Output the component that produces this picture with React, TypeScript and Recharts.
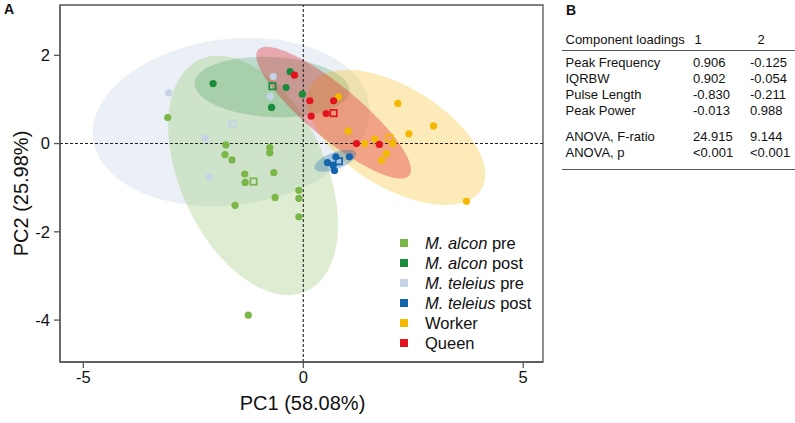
import React from 'react';
import { ScatterChart, Scatter, XAxis, YAxis, ReferenceLine, ReferenceArea, Legend } from 'recharts';

const FONT = '"Liberation Sans", Arial, Helvetica, sans-serif';

// ---- data (PC1, PC2) ----
const alconPre: [number, number][] = [
  [-3.08, 0.59], [-1.76, -0.03], [-1.78, -0.25], [-1.62, -0.37], [-0.76, -0.09], [-0.76, -0.21],
  [-1.33, -0.69], [-1.32, -0.88], [-0.67, -0.66], [-0.64, -1.22], [-1.55, -1.40], [-0.10, -1.06],
  [-0.10, -1.24], [-0.10, -1.66], [-1.25, -3.89],
];
const alconPost: [number, number][] = [[-2.05, 1.36], [-0.30, 1.63], [-0.39, 1.27], [-0.72, 0.82], [-0.02, 1.12]];
const teleiusPre: [number, number][] = [[-3.06, 1.15], [-0.68, 1.52], [-0.75, 1.07], [-2.23, 0.13], [-2.14, -0.76]];
const teleiusPost: [number, number][] = [[0.74, -0.30], [1.05, -0.30], [0.55, -0.43], [0.68, -0.49], [0.71, -0.61]];
const worker: [number, number][] = [
  [0.80, 1.06], [2.15, 0.91], [2.96, 0.40], [2.40, 0.22], [1.02, 0.28], [1.63, 0.10], [1.40, 0.00],
  [2.04, 0.00], [1.89, -0.23], [1.78, -0.38], [3.71, -1.31],
];
const queen: [number, number][] = [[-0.20, 1.55], [0.15, 0.97], [0.69, 0.97], [0.18, 0.62], [0.52, 0.68], [1.21, 0.00], [1.73, -0.02]];

// group means (hollow squares)
const alconPreMean: [number, number] = [-1.13, -0.86];
const alconPostMean: [number, number] = [-0.70, 1.30];
const teleiusPreMean: [number, number] = [-1.61, 0.45];
const teleiusPostMean: [number, number] = [0.81, -0.40];
const workerMean: [number, number] = [1.96, 0.12];
const queenMean: [number, number] = [0.69, 0.69];

// ellipses: [centerX, centerY, semiMajor, semiMinor, angleDeg]
const alconPreEllipse = [-1.14, -0.72, 2.89, 1.65, -65];
const alconPostEllipse = [-0.71, 1.28, 1.76, 0.68, -3];
const teleiusPreEllipse = [-1.64, 0.49, 3.16, 1.88, 7];
const teleiusPostEllipse = [0.73, -0.39, 0.5, 0.19, 20];
const workerEllipse = [2.11, 0.14, 2.27, 1.14, -31.4];
const queenEllipse = [0.69, 0.70, 2.23, 0.59, -39.6];

const xTicks = [-5, 0, 5];
const yTicks = [-4, -2, 0, 2];
const xDomain: [number, number] = [-5.53, 5.45];
const yDomain: [number, number] = [-4.95, 3.14];

// table
const tableHeader = ['Component loadings', '1', '2'];
const loadingLabels = ['Peak Frequency', 'IQRBW', 'Pulse Length', 'Peak Power'];
const loadings1 = ['0.906', '0.902', '-0.830', '-0.013'];
const loadings2 = ['-0.125', '-0.054', '-0.211', '0.988'];
const anovaLabels = ['ANOVA, F-ratio', 'ANOVA, p'];
const anova1 = ['24.915', '<0.001'];
const anova2 = ['9.144', '<0.001'];

type Group = {
  key: string; italic: string; rest: string; color: string; fillOpacity: number;
  points: [number, number][]; mean: [number, number]; ellipse: number[];
};

const GROUPS: Group[] = [
  { key: 'alconPre', italic: 'M. alcon', rest: ' pre', color: '#7ab648', fillOpacity: 0.25, points: alconPre, mean: alconPreMean, ellipse: alconPreEllipse },
  { key: 'alconPost', italic: 'M. alcon', rest: ' post', color: '#1a8c3c', fillOpacity: 0.22, points: alconPost, mean: alconPostMean, ellipse: alconPostEllipse },
  { key: 'teleiusPre', italic: 'M. teleius', rest: ' pre', color: '#c6d3e6', fillOpacity: 0.35, points: teleiusPre, mean: teleiusPreMean, ellipse: teleiusPreEllipse },
  { key: 'teleiusPost', italic: 'M. teleius', rest: ' post', color: '#1565ad', fillOpacity: 0.3, points: teleiusPost, mean: teleiusPostMean, ellipse: teleiusPostEllipse },
  { key: 'worker', italic: '', rest: 'Worker', color: '#f5b800', fillOpacity: 0.28, points: worker, mean: workerMean, ellipse: workerEllipse },
  { key: 'queen', italic: '', rest: 'Queen', color: '#e2131d', fillOpacity: 0.33, points: queen, mean: queenMean, ellipse: queenEllipse },
];
const ELLIPSE_ORDER = ['teleiusPre', 'alconPre', 'alconPost', 'worker', 'queen', 'teleiusPost'];

function ellipseShape(e: number[], color: string, opacity: number) {
  return (p: any) => {
    const { x, y, width, height } = p;
    if (![x, y, width, height].every((v) => Number.isFinite(v))) return <g />;
    const kx = Math.abs(width) / 2;
    const ky = Math.abs(height) / 2;
    const X = x + width / 2;
    const Y = y + height / 2;
    const a = e[2], b = e[3];
    const th = (e[4] * Math.PI) / 180;
    let d = '';
    const N = 120;
    for (let i = 0; i <= N; i++) {
      const t = (i / N) * 2 * Math.PI;
      const dx = a * Math.cos(t) * Math.cos(th) - b * Math.sin(t) * Math.sin(th);
      const dy = a * Math.cos(t) * Math.sin(th) + b * Math.sin(t) * Math.cos(th);
      d += (i ? 'L' : 'M') + (X + kx * dx).toFixed(2) + ',' + (Y - ky * dy).toFixed(2);
    }
    return <path d={d + 'Z'} fill={color} fillOpacity={opacity} stroke="none" />;
  };
}

const toPts = (arr: [number, number][]) => arr.map(([x, y]) => ({ x, y }));

const LegendBox = () => (
  <div style={{ fontFamily: FONT, fontSize: 16.5, color: '#111' }}>
    {GROUPS.map((g) => (
      <div key={g.key} style={{ height: 20, display: 'flex', alignItems: 'center', whiteSpace: 'nowrap' }}>
        <span style={{ display: 'inline-block', width: 8, height: 8, background: g.color, marginRight: 17 }} />
        <span>
          {g.italic ? <i>{g.italic}</i> : null}
          {g.rest}
        </span>
      </div>
    ))}
  </div>
);

const XLabel = (props: any) => {
  const vb = props.viewBox || { x: 60, y: 362, width: 483, height: 61 };
  return (
    <text x={vb.x + vb.width / 2 + 1} y={vb.y + 48} textAnchor="middle" fontFamily={FONT} fontSize={20} fill="#111">
      PC1 (58.08%)
    </text>
  );
};
const YLabel = () => {
  const cx = 27.5;
  const cy = 193.5;
  return (
    <text x={cx} y={cy} transform={`rotate(-90, ${cx}, ${cy})`} textAnchor="middle" fontFamily={FONT} fontSize={20} fill="#111">
      PC2 (25.98%)
    </text>
  );
};

const Table = () => {
  const c0 = 25.5, c1 = 153, c2 = 210;
  const rowY = [67, 83, 99, 115];
  const anovaY = [141, 156.5];
  const txt = { fontFamily: FONT, fontSize: 13, fill: '#111' } as const;
  return (
    <svg width={255} height={200} style={{ position: 'absolute', left: 540, top: 0 }}>
      <text x={26} y={15} fontFamily={FONT} fontSize={14} fontWeight="bold" fill="#111">B</text>
      <text x={c0} y={43.5} {...txt}>{tableHeader[0]}</text>
      <text x={c1 + 1.5} y={43.5} {...txt}>{tableHeader[1]}</text>
      <text x={c2 + 7.5} y={43.5} {...txt}>{tableHeader[2]}</text>
      <line x1={22} x2={255} y1={50.5} y2={50.5} stroke="#555" strokeWidth={1} />
      {loadingLabels.map((l, i) => (
        <g key={l}>
          <text x={c0} y={rowY[i]} {...txt}>{l}</text>
          <text x={c1} y={rowY[i]} {...txt}>{loadings1[i]}</text>
          <text x={c2} y={rowY[i]} {...txt}>{loadings2[i]}</text>
        </g>
      ))}
      {anovaLabels.map((l, i) => (
        <g key={l}>
          <text x={c0} y={anovaY[i]} {...txt}>{l}</text>
          <text x={c1} y={anovaY[i]} {...txt}>{anova1[i]}</text>
          <text x={c2} y={anovaY[i]} {...txt}>{anova2[i]}</text>
        </g>
      ))}
      <line x1={22} x2={255} y1={169.5} y2={169.5} stroke="#555" strokeWidth={1} />
    </svg>
  );
};

export default function App() {
  const byKey: Record<string, Group> = {};
  GROUPS.forEach((g) => (byKey[g.key] = g));
  return (
    <div style={{ position: 'absolute', left: 0, top: 0, width: 795, height: 423, background: '#fff', fontFamily: FONT }}>
      <div style={{ position: 'absolute', left: 4, top: 1, fontFamily: FONT, fontSize: 14, fontWeight: 'bold', color: '#111' }}>A</div>
      <ScatterChart width={795} height={423} margin={{ top: 5, right: 252, bottom: 0, left: 0 }}>
        <XAxis
          type="number"
          dataKey="x"
          domain={xDomain}
          ticks={xTicks}
          allowDataOverflow
          height={61}
          tickSize={6}
          tickMargin={3}
          axisLine={{ stroke: '#555', strokeWidth: 1.3 }}
          tickLine={{ stroke: '#555', strokeWidth: 1.3 }}
          tick={{ fontSize: 16.5, fill: '#111', fontFamily: FONT }}
          label={<XLabel />}
        />
        <YAxis
          type="number"
          dataKey="y"
          domain={yDomain}
          ticks={yTicks}
          allowDataOverflow
          width={60}
          tickSize={6}
          tickMargin={4}
          axisLine={{ stroke: '#555', strokeWidth: 1.3 }}
          tickLine={{ stroke: '#555', strokeWidth: 1.3 }}
          tick={{ fontSize: 16.5, fill: '#111', fontFamily: FONT }}
          label={<YLabel />}
        />
        {ELLIPSE_ORDER.map((k) => {
          const g = byKey[k];
          const e = g.ellipse;
          return (
            <ReferenceArea
              key={'e-' + k}
              x1={e[0] - 1}
              x2={e[0] + 1}
              y1={e[1] - 1}
              y2={e[1] + 1}
              ifOverflow="visible"
              shape={ellipseShape(e, g.color, g.fillOpacity)}
            />
          );
        })}
        <ReferenceArea
          x1={xDomain[0]}
          x2={xDomain[1]}
          y1={yDomain[0]}
          y2={yDomain[1]}
          ifOverflow="visible"
          fill="none"
          fillOpacity={0}
          stroke="#555"
          strokeWidth={1.3}
        />
        <ReferenceLine x={0} stroke="#222" strokeWidth={1.1} strokeDasharray="3 2" />
        <ReferenceLine y={0} stroke="#222" strokeWidth={1.1} strokeDasharray="3 2" />
        {GROUPS.map((g) => (
          <Scatter
            key={'p-' + g.key}
            name={g.key}
            data={toPts(g.points)}
            isAnimationActive={false}
            legendType="none"
            shape={(p: any) => <circle cx={p.cx} cy={p.cy} r={3.6} fill={g.color} />}
          />
        ))}
        {GROUPS.map((g) => (
          <Scatter
            key={'m-' + g.key}
            name={g.key + '-mean'}
            data={toPts([g.mean])}
            isAnimationActive={false}
            legendType="none"
            shape={(p: any) => (
              <rect x={p.cx - 3.2} y={p.cy - 3.2} width={6.4} height={6.4} fill="none" stroke={g.color} strokeWidth={1.7} />
            )}
          />
        ))}
        <Legend
          layout="vertical"
          align="center"
          verticalAlign="middle"
          wrapperStyle={{ left: 400, top: 233.3, width: 160 }}
          content={() => <LegendBox />}
        />
      </ScatterChart>
      <Table />
    </div>
  );
}
